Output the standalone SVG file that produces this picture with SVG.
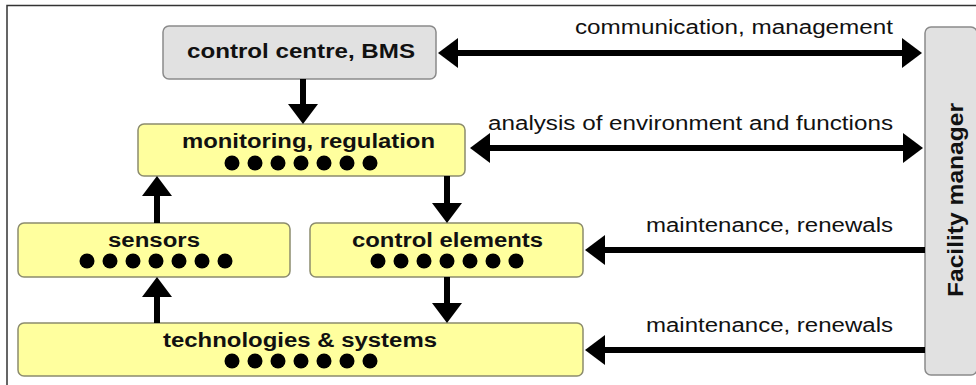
<svg xmlns="http://www.w3.org/2000/svg" width="976" height="385" viewBox="0 0 976 385">
<defs>
<style>
.y{fill:#ffff9e;stroke:#8c8c6e;stroke-width:1.5}
.g{fill:#e1e1e1;stroke:#8a8a8a;stroke-width:1.5}
.b{font-family:"Liberation Sans",Arial,sans-serif;font-weight:bold;font-size:20px;fill:#111}
.l{font-family:"Liberation Sans",Arial,sans-serif;font-size:20px;fill:#111}
.c{fill:none;stroke:#000;stroke-width:6}
.d{fill:#000}
</style>
<marker id="ah" viewBox="0 0 20 30" refX="8" refY="15" markerWidth="20" markerHeight="30" markerUnits="userSpaceOnUse" orient="auto-start-reverse">
<path d="M0,0 L20,15 L0,30 z" fill="#000"/>
</marker>
</defs>
<rect x="0" y="0" width="976" height="385" fill="#fff"/>
<path d="M7,385 V5.5 H976" fill="none" stroke="#333" stroke-width="1.5"/>
<g id="control-centre">
<rect class="g" x="163" y="26" width="273" height="53" rx="6"/>
<text class="b" x="187" y="58" textLength="228" lengthAdjust="spacingAndGlyphs">control centre, BMS</text>
</g>
<g id="monitoring">
<rect class="y" x="138" y="124" width="327" height="52" rx="6"/>
<text class="b" x="182" y="148" textLength="253" lengthAdjust="spacingAndGlyphs">monitoring, regulation</text>
<g class="d"><circle cx="232" cy="163" r="7.5"/><circle cx="255" cy="163" r="7.5"/><circle cx="278" cy="163" r="7.5"/><circle cx="301" cy="163" r="7.5"/><circle cx="324" cy="163" r="7.5"/><circle cx="347" cy="163" r="7.5"/><circle cx="370" cy="163" r="7.5"/></g>
</g>
<g id="sensors">
<rect class="y" x="18" y="223" width="272" height="54" rx="6"/>
<text class="b" x="108" y="247" textLength="92" lengthAdjust="spacingAndGlyphs">sensors</text>
<g class="d"><circle cx="87" cy="261" r="7.5"/><circle cx="110" cy="261" r="7.5"/><circle cx="133" cy="261" r="7.5"/><circle cx="156" cy="261" r="7.5"/><circle cx="179" cy="261" r="7.5"/><circle cx="202" cy="261" r="7.5"/><circle cx="225" cy="261" r="7.5"/></g>
</g>
<g id="control-elements">
<rect class="y" x="310" y="223" width="273" height="54" rx="6"/>
<text class="b" x="352" y="247" textLength="191" lengthAdjust="spacingAndGlyphs">control elements</text>
<g class="d"><circle cx="378" cy="261" r="7.5"/><circle cx="401" cy="261" r="7.5"/><circle cx="424" cy="261" r="7.5"/><circle cx="447" cy="261" r="7.5"/><circle cx="470" cy="261" r="7.5"/><circle cx="493" cy="261" r="7.5"/><circle cx="516" cy="261" r="7.5"/></g>
</g>
<g id="technologies">
<rect class="y" x="18" y="323" width="565" height="53" rx="6"/>
<text class="b" x="163" y="347" textLength="274" lengthAdjust="spacingAndGlyphs">technologies &amp; systems</text>
<g class="d"><circle cx="232" cy="361" r="7.5"/><circle cx="255" cy="361" r="7.5"/><circle cx="278" cy="361" r="7.5"/><circle cx="301" cy="361" r="7.5"/><circle cx="324" cy="361" r="7.5"/><circle cx="347" cy="361" r="7.5"/><circle cx="370" cy="361" r="7.5"/></g>
</g>
<g id="facility-manager">
<rect class="g" x="925" y="27" width="52" height="348" rx="6"/>
<text class="b" transform="translate(963,200) rotate(-90)" x="0" y="0" text-anchor="middle" font-size="22" textLength="194" lengthAdjust="spacingAndGlyphs" style="font-size:22px">Facility manager</text>
</g>
<g id="connectors">
<path class="c" d="M303,79 V112" marker-end="url(#ah)"/>
<path class="c" d="M157,223 V188" marker-end="url(#ah)"/>
<path class="c" d="M157,323 V289" marker-end="url(#ah)"/>
<path class="c" d="M447,176 V211" marker-end="url(#ah)"/>
<path class="c" d="M447,277 V311" marker-end="url(#ah)"/>
<path class="c" d="M450,53 H910" marker-start="url(#ah)" marker-end="url(#ah)"/>
<path class="c" d="M482,148 H911" marker-start="url(#ah)" marker-end="url(#ah)"/>
<path class="c" d="M925,250 H597" marker-end="url(#ah)"/>
<path class="c" d="M925,350 H597" marker-end="url(#ah)"/>
<text class="l" x="575" y="34" textLength="318" lengthAdjust="spacingAndGlyphs">communication, management</text>
<text class="l" x="488" y="130" textLength="405" lengthAdjust="spacingAndGlyphs">analysis of environment and functions</text>
<text class="l" x="646" y="232" textLength="247" lengthAdjust="spacingAndGlyphs">maintenance, renewals</text>
<text class="l" x="646" y="332" textLength="247" lengthAdjust="spacingAndGlyphs">maintenance, renewals</text>
</g>
</svg>
